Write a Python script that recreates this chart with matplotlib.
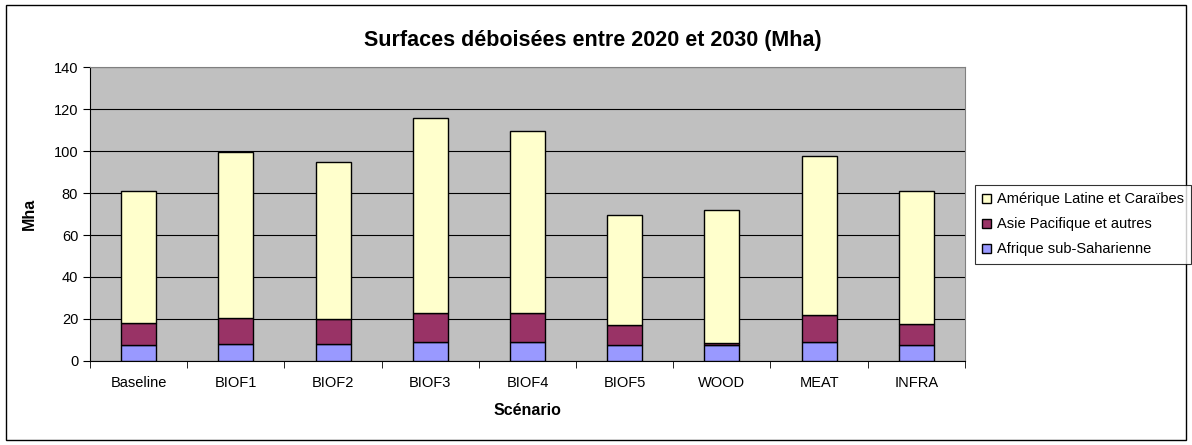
import matplotlib.pyplot as plt
import numpy as np
from matplotlib.patches import Rectangle

plt.rcParams['font.family'] = ['Liberation Sans', 'DejaVu Sans']

scenarios = ['Baseline', 'BIOF1', 'BIOF2', 'BIOF3', 'BIOF4', 'BIOF5', 'WOOD', 'MEAT', 'INFRA']
afrique = [7.5, 8, 8, 9, 9, 7.5, 7.5, 9, 7.5]
asie = [10.5, 12.5, 12, 14, 14, 9.5, 1, 13, 10]
amerique = [63, 79, 75, 93, 86.5, 52.5, 63.5, 75.5, 63.5]

fig = plt.figure(figsize=(11.92, 4.45), dpi=100)
fig.patches.append(Rectangle((0.005, 0.011), 0.99, 0.978, transform=fig.transFigure,
                             fill=False, edgecolor='black', linewidth=1))
ax = fig.add_axes([0.0755, 0.189, 0.734, 0.660])
ax.set_facecolor('#C0C0C0')

x = np.arange(len(scenarios))
w = 0.36
b1 = np.array(afrique)
b2 = b1 + np.array(asie)
ax.bar(x, afrique, w, color='#9999FF', edgecolor='black', linewidth=1, label='Afrique sub-Saharienne', zorder=3)
ax.bar(x, asie, w, bottom=b1, color='#993366', edgecolor='black', linewidth=1, label='Asie Pacifique et autres', zorder=3)
ax.bar(x, amerique, w, bottom=b2, color='#FFFFCC', edgecolor='black', linewidth=1, label='Amérique Latine et Caraïbes', zorder=3)

ax.set_xlim(-0.5, len(scenarios) - 0.5)
ax.set_ylim(0, 140)
ax.set_yticks(range(0, 141, 20))
ax.yaxis.grid(True, color='black', linewidth=0.8, zorder=1)
ax.set_axisbelow(True)
ax.set_xticks(x)
ax.set_xticklabels(scenarios, fontsize=10.5)
ax.set_xticks(np.arange(-0.5, len(scenarios), 1), minor=True)
ax.tick_params(axis='x', which='major', length=0, pad=11)
ax.tick_params(axis='x', which='minor', length=5, direction='out')
ax.tick_params(axis='y', labelsize=10.5, length=5, direction='out')
for s in ax.spines.values():
    s.set_color('#808080')
ax.spines['left'].set_color('black')
ax.spines['bottom'].set_color('black')

ax.set_ylabel('Mha', fontsize=11.5, fontweight='bold', labelpad=12)
ax.set_xlabel('Scénario', fontsize=11.5, fontweight='bold', labelpad=9)
fig.text(0.4975, 0.91, 'Surfaces déboisées entre 2020 et 2030 (Mha)', fontsize=15.5,
         fontweight='bold', ha='center', va='center')

h, l = ax.get_legend_handles_labels()
leg = fig.legend(h[::-1], l[::-1], loc='upper left', bbox_to_anchor=(0.818, 0.584),
                 fontsize=10.5, frameon=True, fancybox=False, edgecolor='black',
                 handlelength=0.6, handleheight=0.6, handletextpad=0.4,
                 borderpad=0.5, labelspacing=0.75, borderaxespad=0)
leg.get_frame().set_linewidth(0.8)

fig.savefig('out.png', dpi=100)
